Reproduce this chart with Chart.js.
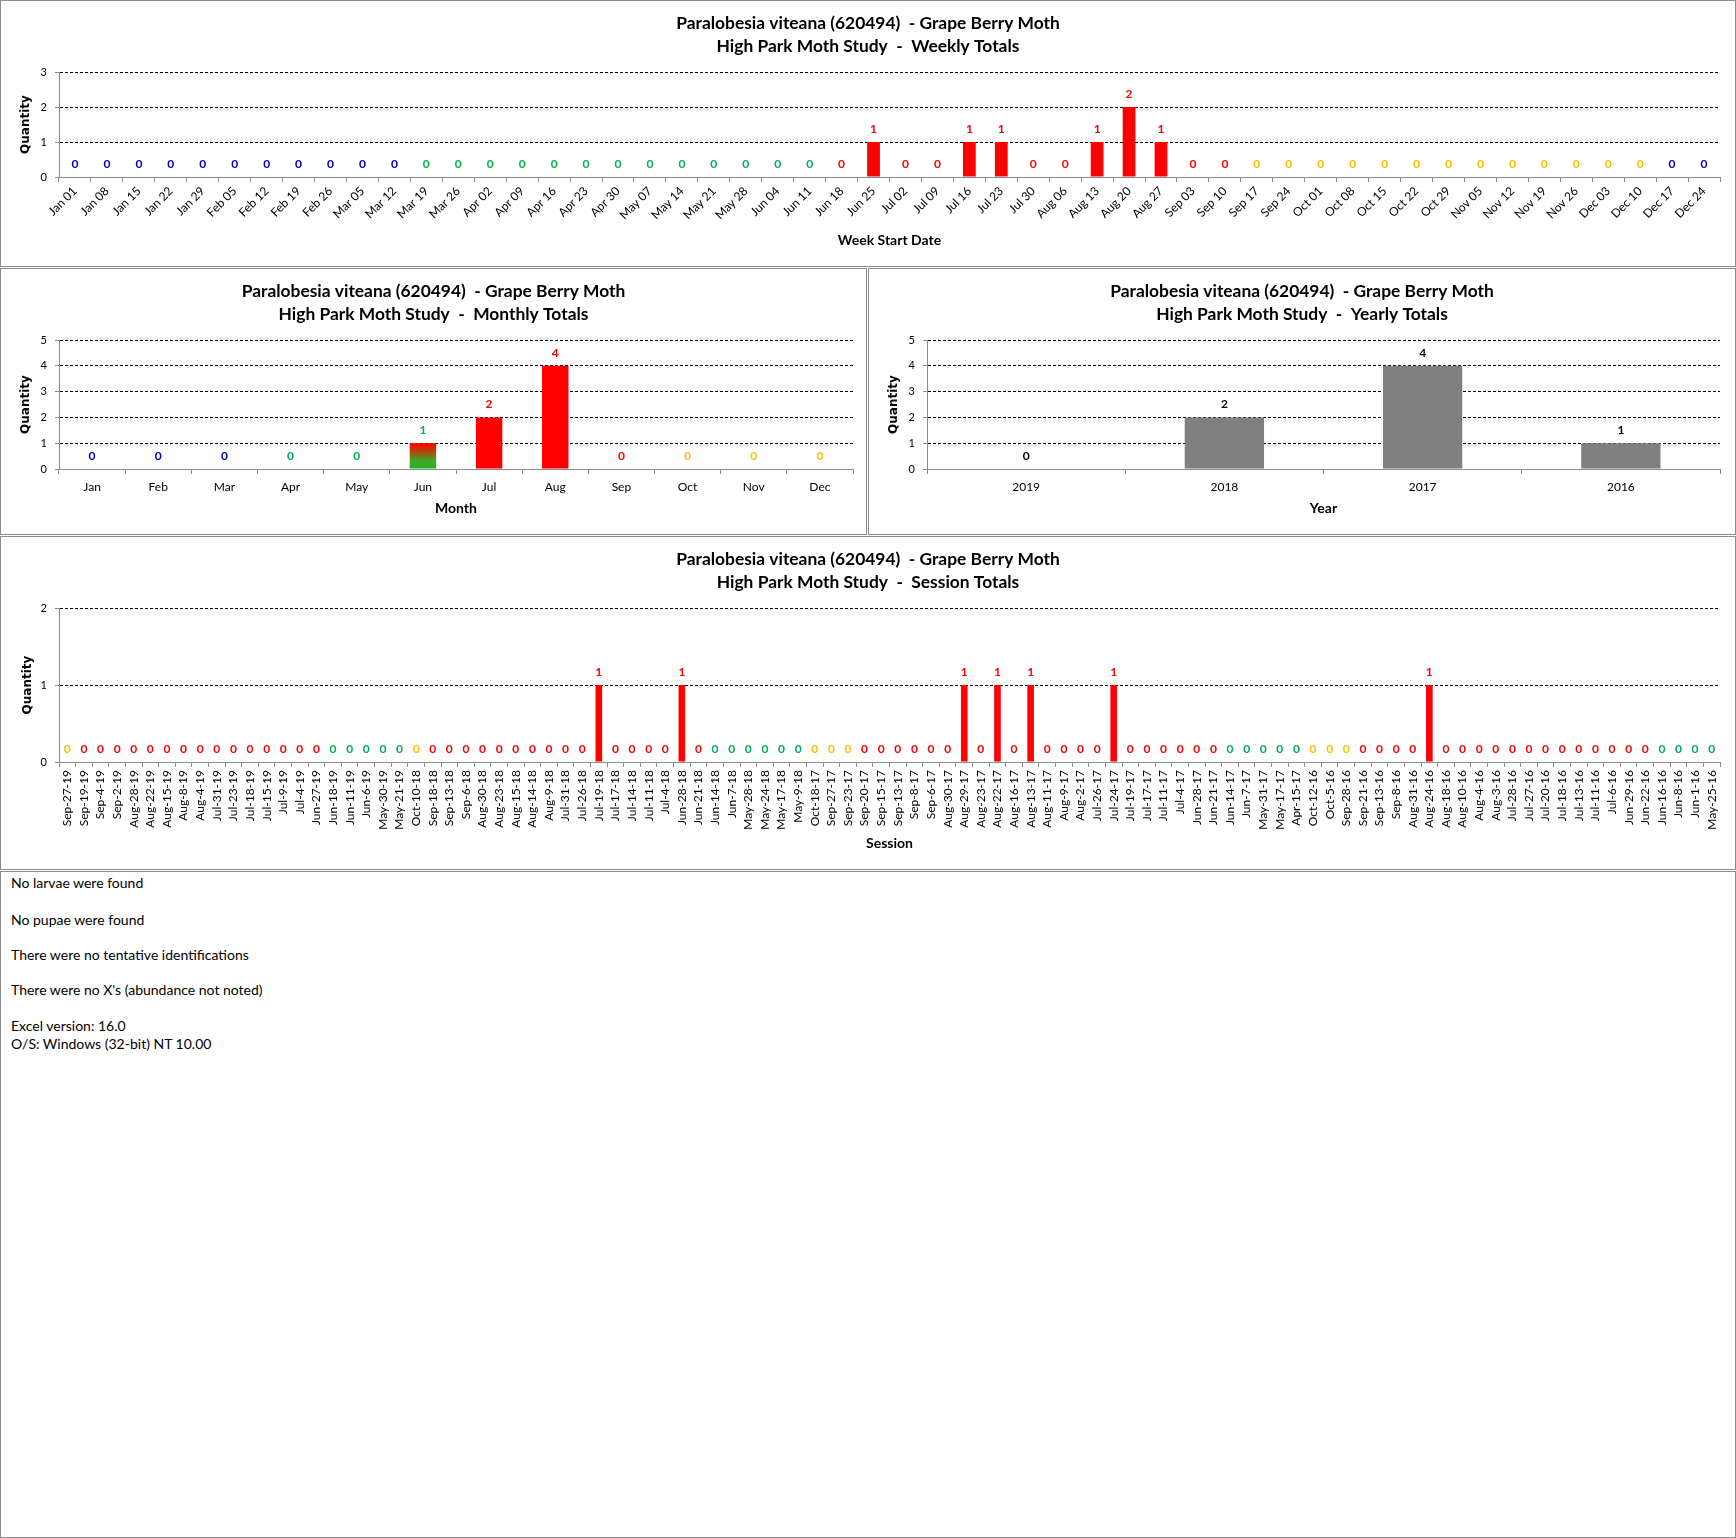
<!DOCTYPE html>
<html>
<head>
<meta charset="utf-8">
<title>Paralobesia viteana - Grape Berry Moth</title>
<script src="https://cdn.jsdelivr.net/npm/chart.js@4.4.1/dist/chart.umd.min.js"></script>
<style>
  html, body { margin: 0; padding: 0; background: #fff; }
  body { width: 1736px; height: 1538px; position: relative; overflow: hidden; font-family: Lato, sans-serif; }
  .panel { position: absolute; box-sizing: border-box; border: 1px solid #8c8c8c; background: #fff; }
  .panel canvas { position: absolute; left: 0; top: 0; }
  .note { position: absolute; left: 10px; font-size: 14px; line-height: 16px; color: #000; white-space: pre; }
</style>
</head>
<body>
<div class="panel" style="left:0;top:0;width:1736px;height:267px"><canvas id="weekly" width="1734" height="265"></canvas></div>
<div class="panel" style="left:0;top:268px;width:867px;height:267px"><canvas id="monthly" width="865" height="265"></canvas></div>
<div class="panel" style="left:868px;top:268px;width:868px;height:267px"><canvas id="yearly" width="866" height="265"></canvas></div>
<div class="panel" style="left:0;top:536px;width:1736px;height:334px"><canvas id="session" width="1734" height="332"></canvas></div>
<div class="panel" style="left:0;top:871px;width:1736px;height:667px">
  <div class="note" style="top:3px">No larvae were found</div>
  <div class="note" style="top:40px">No pupae were found</div>
  <div class="note" style="top:75px">There were no tentative identifications</div>
  <div class="note" style="top:110px">There were no X's (abundance not noted)</div>
  <div class="note" style="top:146px">Excel version: 16.0</div>
  <div class="note" style="top:164px">O/S: Windows (32-bit) NT 10.00</div>
</div>
<script>
// ---- data ----
const species = 'Paralobesia viteana (620494)  - Grape Berry Moth';

const weekLabels = ['Jan 01','Jan 08','Jan 15','Jan 22','Jan 29','Feb 05','Feb 12','Feb 19','Feb 26','Mar 05',
  'Mar 12','Mar 19','Mar 26','Apr 02','Apr 09','Apr 16','Apr 23','Apr 30','May 07','May 14',
  'May 21','May 28','Jun 04','Jun 11','Jun 18','Jun 25','Jul 02','Jul 09','Jul 16','Jul 23',
  'Jul 30','Aug 06','Aug 13','Aug 20','Aug 27','Sep 03','Sep 10','Sep 17','Sep 24','Oct 01',
  'Oct 08','Oct 15','Oct 22','Oct 29','Nov 05','Nov 12','Nov 19','Nov 26','Dec 03','Dec 10',
  'Dec 17','Dec 24'];
const weekValues = [0,0,0,0,0,0,0,0,0,0, 0,0,0,0,0,0,0,0,0,0, 0,0,0,0,0,1,0,0,1,1,
  0,0,1,2,1,0,0,0,0,0, 0,0,0,0,0,0,0,0,0,0, 0,0];
// W winter, S spring, U summer, F fall
const weekSeasons = ('WWWWWWWWWWW' + 'SSSSSSSSSSSSS' + 'UUUUUUUUUUUUU' + 'FFFFFFFFFFFFF' + 'WW').split('');

const monthLabels = ['Jan','Feb','Mar','Apr','May','Jun','Jul','Aug','Sep','Oct','Nov','Dec'];
const monthValues = [0,0,0,0,0,1,2,4,0,0,0,0];
const monthSeasons = ['W','W','W','S','S','SU','U','U','U','F','F','F'];

const yearLabels = ['2019','2018','2017','2016'];
const yearValues = [0,2,4,1];

const sessionLabels = ['Sep-27-19','Sep-19-19','Sep-4-19','Sep-2-19','Aug-28-19','Aug-22-19','Aug-15-19','Aug-8-19','Aug-4-19','Jul-31-19',
  'Jul-23-19','Jul-18-19','Jul-15-19','Jul-9-19','Jul-4-19','Jun-27-19','Jun-18-19','Jun-11-19','Jun-6-19','May-30-19',
  'May-21-19','Oct-10-18','Sep-18-18','Sep-13-18','Sep-6-18','Aug-30-18','Aug-23-18','Aug-15-18','Aug-14-18','Aug-9-18',
  'Jul-31-18','Jul-26-18','Jul-19-18','Jul-17-18','Jul-14-18','Jul-11-18','Jul-4-18','Jun-28-18','Jun-21-18','Jun-14-18',
  'Jun-7-18','May-28-18','May-24-18','May-17-18','May-9-18','Oct-18-17','Sep-27-17','Sep-23-17','Sep-20-17','Sep-15-17',
  'Sep-13-17','Sep-8-17','Sep-6-17','Aug-30-17','Aug-29-17','Aug-23-17','Aug-22-17','Aug-16-17','Aug-13-17','Aug-11-17',
  'Aug-9-17','Aug-2-17','Jul-26-17','Jul-24-17','Jul-19-17','Jul-17-17','Jul-11-17','Jul-4-17','Jun-28-17','Jun-21-17',
  'Jun-14-17','Jun-7-17','May-31-17','May-17-17','Apr-15-17','Oct-12-16','Oct-5-16','Sep-28-16','Sep-21-16','Sep-13-16',
  'Sep-8-16','Aug-31-16','Aug-24-16','Aug-18-16','Aug-10-16','Aug-4-16','Aug-3-16','Jul-28-16','Jul-27-16','Jul-20-16',
  'Jul-18-16','Jul-13-16','Jul-11-16','Jul-6-16','Jun-29-16','Jun-22-16','Jun-16-16','Jun-8-16','Jun-1-16','May-25-16'];
const sessionValues = [0,0,0,0,0,0,0,0,0,0, 0,0,0,0,0,0,0,0,0,0, 0,0,0,0,0,0,0,0,0,0,
  0,0,1,0,0,0,0,1,0,0, 0,0,0,0,0,0,0,0,0,0, 0,0,0,0,1,0,1,0,1,0,
  0,0,0,1,0,0,0,0,0,0, 0,0,0,0,0,0,0,0,0,0, 0,0,1,0,0,0,0,0,0,0,
  0,0,0,0,0,0,0,0,0,0];
const sessionSeasons = ('F' + 'UUUUUUUUUUUUUUU' + 'SSSSS' + 'F' + 'UUUUUUUUUUUUUUUUU' + 'SSSSSS' + 'FFF' +
  'UUUUUUUUUUUUUUUUUUUUUU' + 'SSSSS' + 'FFF' + 'UUUUUUUUUUUUUUUUUU' + 'SSSS').split('');

// ---- styling ----
const seasonColor = { W: '#0000c0', S: '#00b050', U: '#ff0000', F: '#ffc000', SU: '#00b050' };
const AXIS = '#8c8c8c';
Chart.defaults.font.family = 'Lato, sans-serif';
Chart.defaults.color = '#000';

function valueLabels(colors, offset) {
  return {
    id: 'valueLabels',
    afterDatasetsDraw(chart) {
      const { ctx } = chart;
      const data = chart.data.datasets[0].data;
      ctx.save();
      ctx.font = 'bold 12px Lato, sans-serif';
      ctx.textAlign = 'center';
      ctx.textBaseline = 'middle';
      chart.getDatasetMeta(0).data.forEach((bar, i) => {
        ctx.fillStyle = colors[i];
        ctx.fillText(String(data[i]), bar.x, bar.y - offset);
      });
      ctx.restore();
    }
  };
}

// June straddles spring and summer: red fading to green
function juneGradient(c) {
  const y = c.chart.scales.y;
  if (!y) return seasonColor.U;
  const top = y.getPixelForValue(c.raw), base = y.getPixelForValue(0);
  const g = c.chart.ctx.createLinearGradient(0, top, 0, base);
  g.addColorStop(0, '#ff0000');
  g.addColorStop(0.15, '#e81a00');
  g.addColorStop(0.7, '#3cac24');
  g.addColorStop(1, '#28b028');
  return g;
}

// side = equal left/right layout padding so the title centres on the canvas
function barChart(id, o) {
  return new Chart(document.getElementById(id), {
    type: 'bar',
    data: {
      labels: o.labels,
      datasets: [{ data: o.values, backgroundColor: o.barColor, barPercentage: 0.4, categoryPercentage: 1, borderWidth: 0 }]
    },
    options: {
      responsive: false,
      animation: false,
      devicePixelRatio: 1,
      layout: { padding: { left: o.side, right: o.side, top: 0, bottom: 0 } },
      plugins: {
        legend: { display: false },
        tooltip: { enabled: false },
        title: {
          display: true,
          text: [species, o.title],
          color: '#000',
          font: { size: 17.4, weight: 'bold', lineHeight: 1.32 },
          padding: { top: 10.5, bottom: 14.6 }
        }
      },
      scales: {
        x: {
          offset: true,
          grid: { offset: true, drawOnChartArea: false, drawTicks: true, tickLength: 5, color: AXIS },
          border: { color: AXIS, width: 1 },
          ticks: { autoSkip: false, maxRotation: o.rotation, minRotation: o.rotation, padding: o.tickPad, color: '#000', font: { size: 12 } },
          title: { display: true, text: o.xTitle, color: '#000', font: { size: 14, weight: 'bold', lineHeight: 1.2 }, padding: { top: 0, bottom: 17.6 } },
          afterFit: s => { s.height = o.xHeight; }
        },
        y: {
          min: 0,
          max: o.yMax,
          ticks: { stepSize: 1, padding: 8, color: '#000', font: { size: 11 } },
          grid: {
            color: c => (c.tick && c.tick.value === 0 ? 'rgba(0,0,0,0)' : '#000'),
            tickColor: AXIS, tickLength: 4, lineWidth: 1
          },
          border: { color: AXIS, width: 1, dash: [3, 2] },
          title: { display: true, text: 'Quantity', color: '#000', font: { family: 'DejaVu Sans', size: 12, weight: 'bold', lineHeight: 1.2 }, padding: { top: o.qPad - o.side, bottom: 0 } },
          afterFit: s => { s.width = 58 - o.side; }
        }
      }
    },
    plugins: [valueLabels(o.labelColors, 13)]
  });
}

barChart('weekly', {
  labels: weekLabels, values: weekValues, title: 'High Park Moth Study  -  Weekly Totals',
  barColor: weekSeasons.map(s => seasonColor[s]), labelColors: weekSeasons.map(s => seasonColor[s]),
  yMax: 3, side: 15, xHeight: 89, rotation: 45, tickPad: 2, xTitle: 'Week Start Date', qPad: 18
});

barChart('monthly', {
  labels: monthLabels, values: monthValues, title: 'High Park Moth Study  -  Monthly Totals',
  barColor: c => (monthSeasons[c.dataIndex] === 'SU' ? juneGradient(c) : seasonColor[monthSeasons[c.dataIndex]]),
  labelColors: monthSeasons.map(s => seasonColor[s]),
  yMax: 5, side: 13, xHeight: 65, rotation: 0, tickPad: 6, xTitle: 'Month', qPad: 18
});

barChart('yearly', {
  labels: yearLabels, values: yearValues, title: 'High Park Moth Study  -  Yearly Totals',
  barColor: '#808080', labelColors: yearLabels.map(() => '#000'),
  yMax: 5, side: 15, xHeight: 65, rotation: 0, tickPad: 6, xTitle: 'Year', qPad: 18
});

barChart('session', {
  labels: sessionLabels, values: sessionValues, title: 'High Park Moth Study  -  Session Totals',
  barColor: sessionSeasons.map(s => seasonColor[s]), labelColors: sessionSeasons.map(s => seasonColor[s]),
  yMax: 2, side: 15, xHeight: 107, rotation: 90, tickPad: 3, xTitle: 'Session', qPad: 20
});
</script>
</body>
</html>
